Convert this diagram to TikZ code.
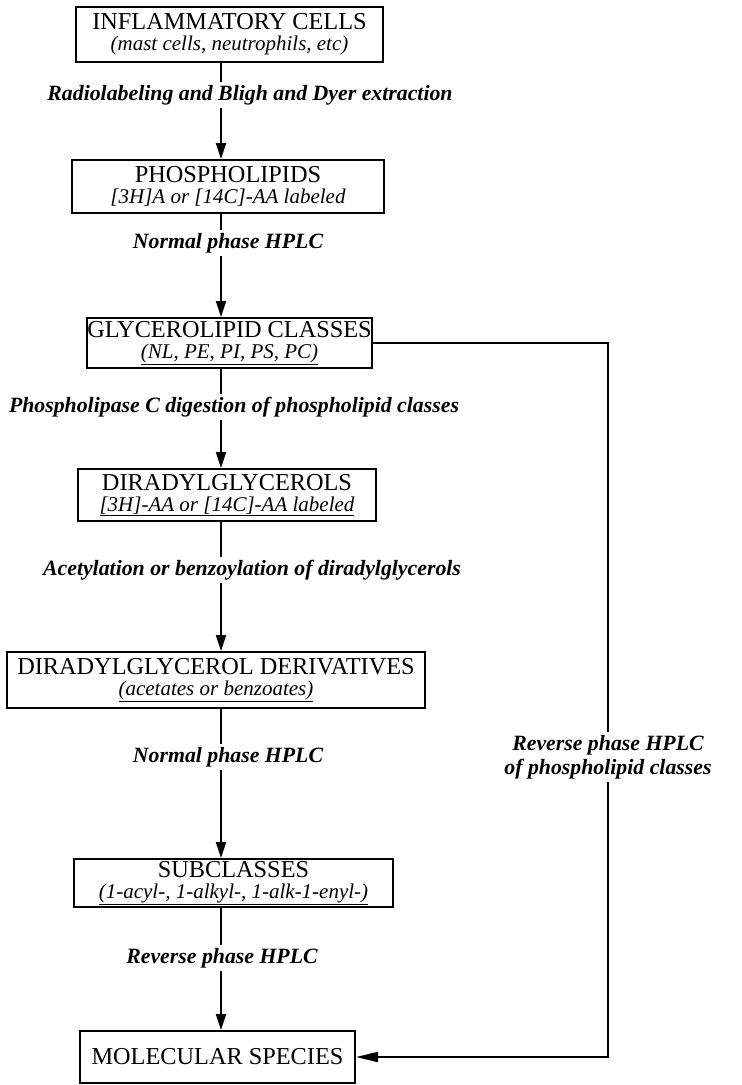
\documentclass[tikz,border=0pt]{standalone}
\usepackage{fontspec}
\setmainfont{Liberation Serif}
\usetikzlibrary{arrows.meta,calc}
\newcommand{\stagefont}{\fontsize{24.3}{21}\selectfont}
\newcommand{\notefont}{\fontsize{21}{21}\selectfont\itshape}
\newcommand{\stepfont}{\fontsize{21.8}{24}\selectfont\bfseries\itshape}

\begin{document}
\begin{tikzpicture}[x=1pt,y=-1pt,
		stage/.style={draw, line width=2pt, align=center, inner sep=0pt, font=\stagefont},
		method/.style={font=\stepfont, inner sep=3pt, align=center},
		wire/.style={line width=2pt},
		flow/.style={wire, -{Triangle[length=16pt,width=10pt]}}]
		\useasboundingbox (0,0) rectangle (742,1085);
		\coordinate (ax) at (221,0);
		\node[stage, minimum width=307pt, minimum height=55pt] (C) at (229.5,34.5) {INFLAMMATORY CELLS\\{\notefont (mast cells, neutrophils, etc)}};
		\node[stage, minimum width=312pt, minimum height=53pt] (P) at (228,186.5) {PHOSPHOLIPIDS\\{\notefont [3H]A or [14C]-AA labeled}};
		\node[stage, minimum width=283pt, minimum height=50pt] (G) at (229.5,343) {GLYCEROLIPID CLASSES\\{\notefont\underline{(NL, PE, PI, PS, PC)}}};
		\node[stage, minimum width=298pt, minimum height=52pt] (D) at (227,495) {DIRADYLGLYCEROLS\\{\notefont\underline{[3H]-AA or [14C]-AA labeled}}};
		\node[stage, minimum width=418pt, minimum height=56pt] (E) at (216,680) {DIRADYLGLYCEROL DERIVATIVES\\{\notefont\underline{(acetates or benzoates)}}};
		\node[stage, minimum width=319pt, minimum height=48pt] (B) at (233.5,883) {SUBCLASSES\\{\notefont\underline{(1-acyl-, 1-alkyl-, 1-alk-1-enyl-)}}};
		\node[stage, minimum width=275pt, minimum height=52pt] (S) at (217.5,1057) {MOLECULAR SPECIES};
		\node[method] (m1) at (250,95) {Radiolabeling and Bligh and Dyer extraction};
		\node[method] (m2) at (228,243) {Normal phase HPLC};
		\node[method] (m3) at (234,407) {Phospholipase C digestion of phospholipid classes};
		\node[method] (m4) at (252,570) {Acetylation or benzoylation of diradylglycerols};
		\node[method] (m5) at (228,757) {Normal phase HPLC};
		\node[method] (m6) at (222,958) {Reverse phase HPLC};
		\node[method] (m7) at (608,757) {Reverse phase HPLC\\of phospholipid classes};
		\path (C.south -| ax) edge[wire] (m1.north -| ax)
			(m1.south -| ax) edge[flow] (P.north -| ax)
			(P.south -| ax) edge[wire] (m2.north -| ax)
			(m2.south -| ax) edge[flow] (G.north -| ax)
			(G.south -| ax) edge[wire] (m3.north -| ax)
			(m3.south -| ax) edge[flow] (D.north -| ax)
			(D.south -| ax) edge[wire] (m4.north -| ax)
			(m4.south -| ax) edge[flow] (E.north -| ax)
			(E.south -| ax) edge[wire] (m5.north -| ax)
			(m5.south -| ax) edge[flow] (B.north -| ax)
			(B.south -| ax) edge[wire] (m6.north -| ax)
			(m6.south -| ax) edge[flow] (S.north -| ax);
		\draw[wire] (G.east) -| (m7.north);
		\draw[wire, -{Triangle[length=22pt,width=10pt]}] (m7.south) |- (S.east);
	\end{tikzpicture}
\end{document}
